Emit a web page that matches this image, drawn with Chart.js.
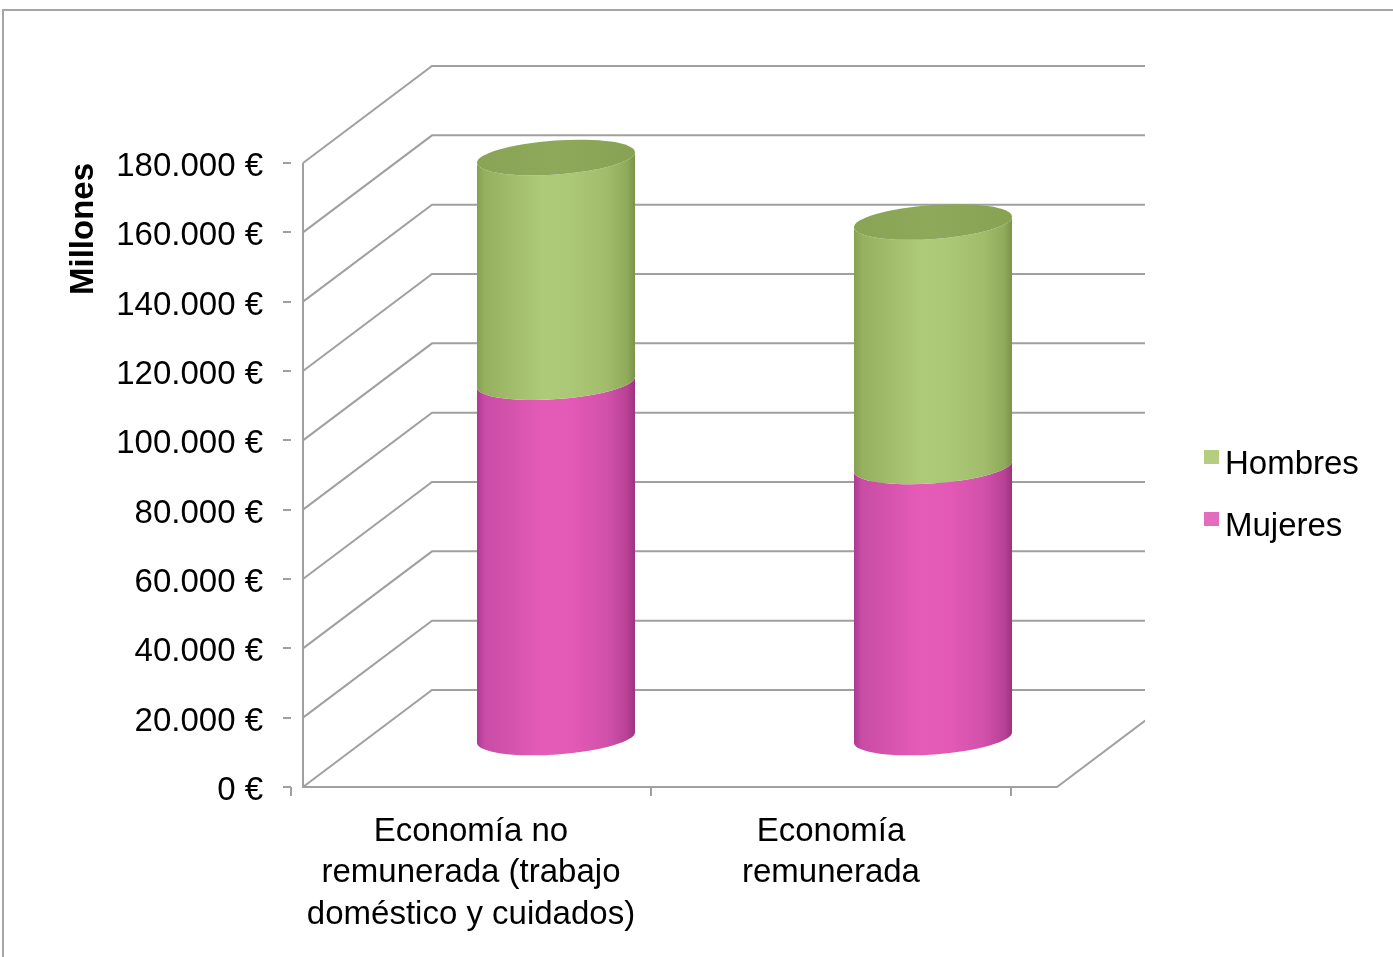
<!DOCTYPE html>
<html>
<head>
<meta charset="utf-8">
<script src="https://cdn.jsdelivr.net/npm/chart.js@4.4.1/dist/chart.umd.min.js"></script>
<style>
  html, body { margin: 0; padding: 0; background: #fff; }
  #wrap { width: 1393px; height: 957px; position: relative; }
</style>
</head>
<body>
<div id="wrap"><canvas id="chart"></canvas></div>
<script>
const categories = [
    ['Economía no', 'remunerada (trabajo', 'doméstico y cuidados)'],
    ['Economía', 'remunerada']
];
const mujeres = [102800, 78500];
const hombres = [64800, 70500];
const yMax = 180000;
const yStep = 20000;

const FONT = "'Liberation Sans', Arial, sans-serif";
const gridColor = '#a0a0a0';
const DX = 129, DY = 97; // depth of the 3d box

// side shading of the cylinders, left to right
const shades = {
    Mujeres: ['#ab3a90', '#c84ca5', '#e55cb7', '#e25ab5', '#d251aa', '#b84195', '#9c3282'],
    Hombres: ['#84a050', '#95b160', '#aecb79', '#abc876', '#a1bd6c', '#8faa5a', '#7a9348']
};

function euro(v) {
    return String(v).replace(/\B(?=(\d{3})+(?!\d))/g, '.') + ' €';
}

// front plane of the 3d box, taken from the chart area
function box3d(chart) {
    const a = chart.chartArea;
    return { x0: a.left + 12, x1: a.right + 46, clip: a.right + 134 };
}

const frame = {
    id: 'frame',
    beforeDraw(chart) {
        const ctx = chart.ctx;
        ctx.save();
        ctx.strokeStyle = '#a6a6a6';
        ctx.lineWidth = 2;
        ctx.beginPath();
        ctx.moveTo(3, chart.height);
        ctx.lineTo(3, 10);
        ctx.lineTo(chart.width, 10);
        ctx.stroke();
        ctx.restore();
    }
};

const walls = {
    id: 'walls',
    beforeDatasetsDraw(chart) {
        const ctx = chart.ctx;
        const y = chart.scales.y;
        const b = box3d(chart);
        ctx.save();
        ctx.beginPath();
        ctx.rect(0, 0, b.clip, chart.height);
        ctx.clip();
        ctx.strokeStyle = gridColor;
        ctx.lineWidth = 2;
        ctx.beginPath();
        for (let v = 0; v <= yMax; v += yStep) {
            const py = y.getPixelForValue(v);
            ctx.moveTo(b.x0, py);
            ctx.lineTo(b.x0 + DX, py - DY);
            ctx.lineTo(b.clip, py - DY);
        }
        const y0 = y.getPixelForValue(0);
        ctx.moveTo(b.x0, y.getPixelForValue(yMax));
        ctx.lineTo(b.x0, y0);
        ctx.lineTo(b.x1, y0);
        ctx.lineTo(b.x1 + DX, y0 - DY);
        ctx.stroke();
        ctx.restore();
    },
    beforeDatasetDraw() {
        return false; // bars are drawn as cylinders below
    },
    afterDatasetsDraw(chart) {
        const ctx = chart.ctx;
        const a = chart.chartArea;
        const b = box3d(chart);
        const last = chart.data.datasets.length - 1;
        chart.data.datasets.forEach((ds, di) => {
            const meta = chart.getDatasetMeta(di);
            meta.data.forEach(bar => {
                const fx = b.x0 + (bar.x - a.left) / a.width * (b.x1 - b.x0);
                const cx = fx + DX / 2;
                const rx = bar.width / 2, ry = 17, rot = -0.07;
                const top = bar.y - DY / 2;
                const bot = bar.base - DY / 2;
                const g = ctx.createLinearGradient(cx - rx, 0, cx + rx, 0);
                const s = shades[ds.label];
                const stops = [0, 0.05, 0.42, 0.6, 0.82, 0.95, 1];
                stops.forEach((p, i) => g.addColorStop(p, s[i]));
                ctx.save();
                ctx.beginPath();
                ctx.ellipse(cx, top, rx, ry, rot, Math.PI, 0, true);
                ctx.ellipse(cx, bot, rx, ry, rot, 0, Math.PI, false);
                ctx.closePath();
                ctx.fillStyle = g;
                ctx.fill();
                if (di === last) {
                    const gc = ctx.createLinearGradient(cx - rx, 0, cx + rx, 0);
                    gc.addColorStop(0, '#8aa456');
                    gc.addColorStop(0.5, '#8fa95b');
                    gc.addColorStop(1, '#88a254');
                    ctx.beginPath();
                    ctx.ellipse(cx, top, rx, ry, rot, 0, Math.PI * 2);
                    ctx.fillStyle = gc;
                    ctx.fill();
                }
                ctx.restore();
            });
        });
    }
};

const legendBox = {
    id: 'legendBox',
    afterDraw(chart) {
        const ctx = chart.ctx;
        const a = chart.chartArea;
        const lx = a.right + 193;
        let ly = a.top + 287;
        ctx.save();
        ctx.font = '33px ' + FONT;
        ctx.textBaseline = 'alphabetic';
        chart.data.datasets.slice().reverse().forEach(ds => {
            ctx.fillStyle = ds.backgroundColor;
            ctx.fillRect(lx, ly, 15, 14);
            ctx.fillStyle = '#000';
            ctx.fillText(ds.label, lx + 21, ly + 24);
            ly += 62;
        });
        ctx.restore();
    }
};

new Chart(document.getElementById('chart'), {
    type: 'bar',
    plugins: [frame, walls, legendBox],
    data: {
        labels: categories,
        datasets: [
            {
                label: 'Mujeres',
                data: mujeres,
                backgroundColor: '#e46cbf',
                categoryPercentage: 1,
                barPercentage: 0.44
            },
            {
                label: 'Hombres',
                data: hombres,
                backgroundColor: '#b4cd81',
                categoryPercentage: 1,
                barPercentage: 0.44
            }
        ]
    },
    options: {
        responsive: true,
        maintainAspectRatio: false,
        animation: false,
        events: [],
        layout: {
            padding: { left: 0, top: 163, right: 382, bottom: 0 }
        },
        plugins: {
            legend: { display: false },
            tooltip: { enabled: false }
        },
        scales: {
            x: {
                stacked: true,
                border: { display: false },
                grid: {
                    offset: true,
                    drawOnChartArea: false,
                    drawTicks: true,
                    tickLength: 9,
                    color: gridColor,
                    lineWidth: 2
                },
                ticks: {
                    color: '#000',
                    font: { family: FONT, size: 33, lineHeight: 1.26 },
                    padding: 15,
                    maxRotation: 0,
                    autoSkip: false
                },
                afterFit: s => { s.height = 170; }
            },
            y: {
                stacked: true,
                min: 0,
                max: yMax,
                border: { display: false },
                grid: {
                    drawOnChartArea: false,
                    drawTicks: true,
                    tickLength: 8,
                    color: gridColor,
                    lineWidth: 2
                },
                ticks: {
                    stepSize: yStep,
                    color: '#000',
                    font: { family: FONT, size: 33 },
                    padding: 20,
                    labelOffset: 4,
                    callback: v => euro(v)
                },
                title: {
                    display: true,
                    text: 'Millones',
                    align: 'end',
                    color: '#000',
                    font: { family: FONT, size: 33, weight: 'bold' },
                    padding: { top: 64, bottom: 0 }
                },
                afterFit: s => { s.width = 291; }
            }
        }
    }
});
</script>
</body>
</html>
